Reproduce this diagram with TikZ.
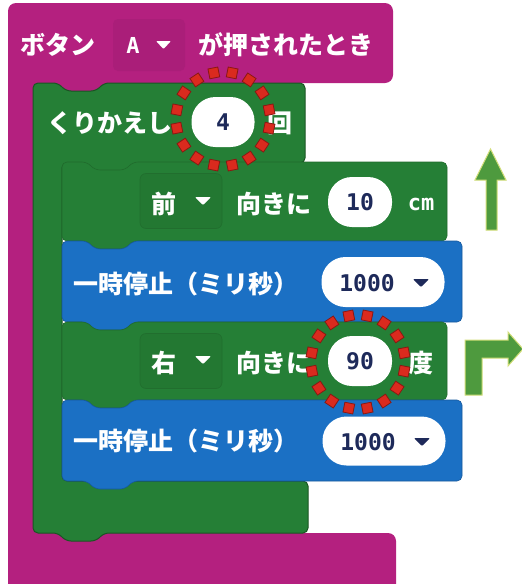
\documentclass[tikz,border=0pt]{standalone}
\usepackage{fontspec}
\newfontfamily\jp{Noto Sans CJK JP}
\newfontfamily\mono{DejaVu Sans Mono}
\definecolor{mag}{HTML}{B4207F}
\definecolor{magdark}{HTML}{AA1E79}
\definecolor{grn}{HTML}{257F36}
\definecolor{grnline}{HTML}{1A5523}
\definecolor{grndd}{HTML}{237832}
\definecolor{blu}{HTML}{1B70C4}
\definecolor{bluline}{HTML}{16589C}
\definecolor{navy}{HTML}{1E2A5A}
\definecolor{reddot}{HTML}{DA2A1E}
\definecolor{reddotline}{HTML}{8A1812}
\definecolor{arrowg}{HTML}{4E9A3E}
\definecolor{arrowedge}{HTML}{D2DE78}
\newcommand{\innerblock}[5]{%
  \path[#5, rounded corners=5pt] (#1,#3) -- ({#1+25},#3) -- ({#1+33},{#3+8}) -- ({#1+63},{#3+8}) -- ({#1+71},#3)
   -- (#2,#3) -- (#2,#4) -- ({#1+71},#4) -- ({#1+63},{#4+8}) -- ({#1+33},{#4+8}) -- ({#1+25},#4) -- (#1,#4) -- cycle;}
\begin{document}
\begin{tikzpicture}[x=1pt,y=-1pt,
  jtext/.style={text=white, font=\jp\bfseries\fontsize{25}{25}\selectfont, inner sep=0pt},
  numtext/.style={text=navy, font=\mono\bfseries\fontsize{23}{23}\selectfont, inner sep=0pt},
  lattext/.style={text=white, font=\mono\bfseries\fontsize{22}{22}\selectfont, inner sep=0pt},
  oval/.style={fill=white, rounded corners=24pt, inner sep=0pt},
  ddbox/.style={fill=grndd, draw=grnline!40!grn, line width=0.6pt, rounded corners=6pt, minimum width=82pt, minimum height=55pt, inner sep=0pt},
  rdot/.style={fill=reddot, draw=reddotline, line width=0.8pt, minimum size=10pt, inner sep=0pt, rectangle},
  arrowshape/.style={fill=arrowg, draw=arrowedge, line width=1pt, line join=miter}
]
\useasboundingbox (0,0) rectangle (522,584);
\clip (0,0) rectangle (522,584);
\fill[white] (0,0) rectangle (522,584);

% magenta event block
\path[fill=mag, rounded corners=8pt] (8,3) -- (393,3) -- (393,83) -- (120,83) -- (120,100) -- (36,100) -- (36,533) -- (396,533) -- (396,600) -- (8,600) -- cycle;
\node[fill=magdark, rounded corners=5pt, minimum width=72pt, minimum height=52pt, inner sep=0pt] (ddA) at (149,45) {};

% green repeat block
\path[fill=grn, draw=grnline, line width=1pt, rounded corners=5pt]
  (33,83) -- (58,83) -- (66,91) -- (96,91) -- (104,83) -- (305,83) -- (305,163)
  -- (133,163) -- (125,171) -- (95,171) -- (87,163) -- (62,163) -- (62,481)
  -- (308,481) -- (308,533) -- (104,533) -- (96,541) -- (66,541) -- (58,533) -- (33,533) -- cycle;

% inner blocks
\innerblock{62}{447}{162}{241}{fill=grn, draw=grnline!50!grn, line width=0.6pt}
\innerblock{62}{462}{241}{322}{fill=blu, draw=bluline, line width=0.6pt}
\innerblock{62}{447}{322}{400}{fill=grn, draw=grnline!50!grn, line width=0.6pt}
\innerblock{62}{462}{400}{481}{fill=blu, draw=bluline, line width=0.6pt}

% header texts
\node[jtext, anchor=west] (t1) at (20,45) {ボタン};
\node[lattext] (tA) at (133,45) {A};
\fill[white, rounded corners=1pt] (156,41) -- (171,41) -- (163.5,49) -- cycle;
\node[jtext, anchor=west] (t2) at (198,45) {が押されたとき};

% repeat header
\node[jtext, anchor=west] (rep) at (47,123) {くりかえし};
\node[oval, minimum width=63pt, minimum height=50pt] (o4) at (223,122) {};
\node[numtext] at (o4) {4};
\node[jtext] (kai) at (280,123) {回};

% move forward block
\node[ddbox] (dd1) at (181,201) {};
\node[jtext] (mae) at (164,204) {前};
\fill[white, rounded corners=1pt] (195,197) -- (211,197) -- (203,205) -- cycle;
\node[jtext] (muki1) at (274,204) {向きに};
\node[oval, minimum width=64pt, minimum height=50pt] (o10) at (360,202) {};
\node[numtext] at (o10) {10};
\node[lattext] (cm) at (421,204) {cm};

% pause block 1
\node[jtext, anchor=west] (p1) at (73,284) {一時停止（ミリ秒）};
\node[oval, minimum width=123pt, minimum height=50pt] (o1000a) at (383,282) {};
\node[numtext] at (367,283) {1000};
\fill[navy, rounded corners=1pt] (413,279) -- (429,279) -- (421,287) -- cycle;

% turn block
\node[ddbox] (dd2) at (181,361) {};
\node[jtext] (migi) at (164,363) {右};
\fill[white, rounded corners=1pt] (195,356) -- (211,356) -- (203,364) -- cycle;
\node[jtext] (muki2) at (274,363) {向きに};
\node[oval, minimum width=64pt, minimum height=50pt] (o90) at (360,361) {};
\node[numtext] at (o90) {90};
\node[jtext] (do) at (421,363) {度};

% pause block 2
\node[jtext, anchor=west] (p2) at (73,441) {一時停止（ミリ秒）};
\node[oval, minimum width=123pt, minimum height=49pt] (o1000b) at (384,441) {};
\node[numtext] at (368,442) {1000};
\fill[navy, rounded corners=1pt] (414,438) -- (430,438) -- (422,446) -- cycle;

% red dotted circles
\coordinate (c1) at (223,119);
\coordinate (c2) at (358,362);
\foreach \a in {11.25,33.75,...,359} {
  \node[rdot, rotate=-\a] at ([shift={(\a:47)}]c1) {};
  \node[rdot, rotate=-\a] at ([shift={(\a:47)}]c2) {};
}

% arrows
\path[arrowshape] (486,230) -- (486,180) -- (475,180) -- (490.5,149) -- (506,180) -- (497,180) -- (497,230) -- cycle;
\path[arrowshape] (465,395) -- (465,340) -- (508,340) -- (508,332) -- (523,349) -- (508,366) -- (508,358) -- (482,358) -- (482,395) -- cycle;
\end{tikzpicture}
\end{document}
